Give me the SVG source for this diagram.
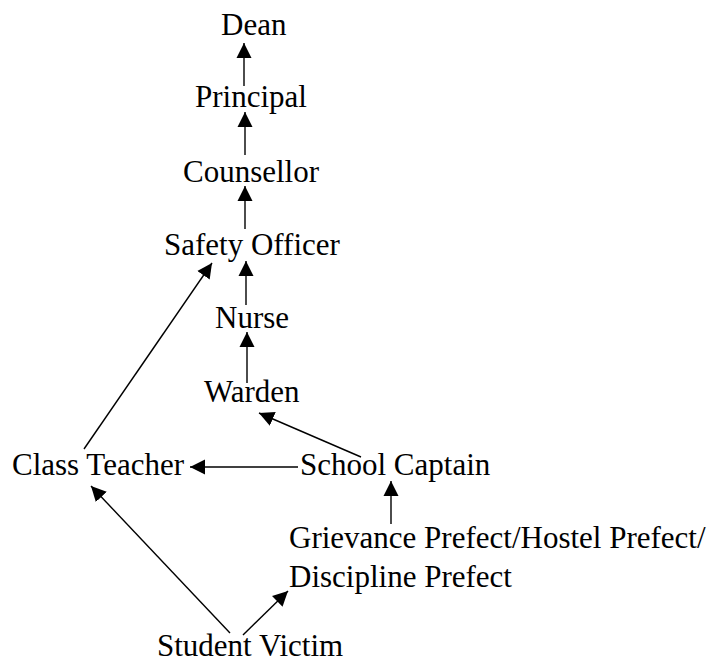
<svg xmlns="http://www.w3.org/2000/svg" width="720" height="662" viewBox="0 0 720 662">
<style>
text{font-family:"Liberation Serif","Times New Roman",serif;font-size:31px;fill:#000}
.c line{stroke:#000;stroke-width:1.4;fill:none;marker-end:url(#ah)}
</style>
<defs>
<marker id="ah" markerUnits="userSpaceOnUse" markerWidth="16" markerHeight="16" viewBox="0 0 16 16" refX="15" refY="8" orient="auto">
<path d="M0,0.5 L15,8 L0,15.5 Z" fill="#000"/>
</marker>
</defs>
<rect width="720" height="662" fill="#fff"/>
<g class="c" id="connectors">
<line x1="244" y1="86" x2="244" y2="43"/>
<line x1="245" y1="155" x2="245" y2="112"/>
<line x1="245" y1="229" x2="245" y2="186"/>
<line x1="246" y1="305" x2="246" y2="261"/>
<line x1="247" y1="383" x2="247" y2="332"/>
<line x1="361" y1="457" x2="259" y2="413"/>
<line x1="298" y1="467" x2="190" y2="467"/>
<line x1="84" y1="449" x2="212" y2="263"/>
<line x1="391" y1="524" x2="391" y2="481"/>
<line x1="230" y1="633" x2="91" y2="486"/>
<line x1="243" y1="635" x2="288" y2="591"/>
</g>
<g id="dean"><text x="221" y="35">Dean</text></g>
<g id="principal"><text x="195" y="107">Principal</text></g>
<g id="counsellor"><text x="183" y="182">Counsellor</text></g>
<g id="safety"><text x="164" y="255">Safety Officer</text></g>
<g id="nurse"><text x="215" y="328">Nurse</text></g>
<g id="warden"><text x="204" y="402">Warden</text></g>
<g id="classteacher"><text x="12" y="475">Class Teacher</text></g>
<g id="schoolcaptain"><text x="300" y="475">School Captain</text></g>
<g id="prefects"><text x="289" y="548">Grievance Prefect/Hostel Prefect/</text><text x="289" y="587">Discipline Prefect</text></g>
<g id="victim"><text x="157" y="656">Student Victim</text></g>
</svg>
